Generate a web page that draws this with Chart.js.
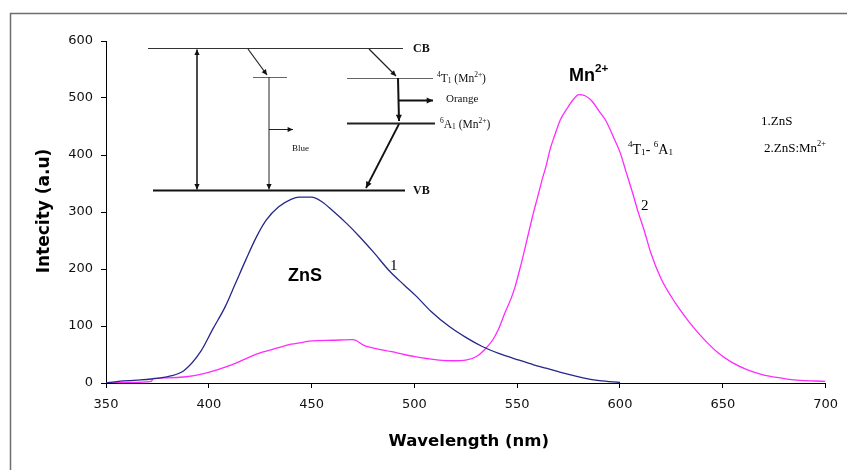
<!DOCTYPE html>
<html lang="en">

<head>
    <meta charset="UTF-8">
    <title>ZnS / ZnS:Mn PL spectra</title>
    <script src="https://cdn.jsdelivr.net/npm/chart.js@4.5.0/dist/chart.umd.min.js"></script>
    <style>
        body { margin: 0; background: #fff; }
        #wrap { width: 847px; height: 470px; }
    </style>
</head>

<body>
    <div id="wrap">
        <canvas id="myChart" width="847" height="470"></canvas>
    </div>

    <script>
        // curve 1 : ZnS
        const znsWl = [350, 356, 365, 372, 381, 388, 396, 402, 408, 413, 418, 423, 428, 434, 440, 444, 450, 455, 460, 467,
            473, 480, 488, 495, 501, 508, 517, 525, 533, 541, 551, 558, 564, 570, 575, 582, 590, 600];
        const znsI = [0, 3, 5, 7, 12, 22, 55, 95, 134, 175, 216, 255, 286, 309, 322, 326, 326, 318, 303, 280,
            258, 230, 196, 172, 152, 126, 99, 80, 64, 52, 40, 32, 26, 20, 15, 9, 4, 1];

        // curve 2 : ZnS:Mn2+
        const mnWl = [350, 360, 372, 373, 380, 389, 397, 404, 412, 420, 426, 433, 440, 445, 450, 460, 470, 476, 483, 489,
            495, 501, 506, 512, 519, 525, 530, 534, 538, 541, 544, 547, 549, 552, 555, 558, 560, 562, 564, 566,
            568, 571, 574, 577, 580, 583, 586, 590, 593, 597, 600, 603, 606, 609, 612, 615, 620, 627, 633, 640,
            648, 654, 662, 670, 678, 686, 700];
        const mnI = [0, 1, 3, 8, 9, 11, 16, 23, 33, 46, 54, 61, 68, 71, 74, 75, 76, 65, 59, 55,
            50, 46, 43, 40, 39, 40, 46, 58, 75, 95, 123, 148, 169, 210, 255, 300, 327, 355, 380, 410,
            432, 462, 480, 496, 506, 504, 496, 476, 461, 430, 405, 370, 335, 298, 265, 228, 183, 140, 110, 80,
            52, 37, 23, 14, 9, 5, 3];

        const xMin = 350, xMax = 700, xStep = 50;
        const yMin = 0, yMax = 600, yStep = 100;

        const toPoints = (xs, ys) => xs.map((x, i) => ({ x: x, y: ys[i] }));

        // texte avec exposants / indices
        function richText(ctx, x, y, parts, size, family, weight) {
            let cx = x;
            parts.forEach(p => {
                const txt = p[0], mode = p[1] || '';
                let s = size, dy = 0;
                if (mode === 'sup') { s = size * 0.65; dy = -size * 0.38; }
                if (mode === 'sub') { s = size * 0.65; dy = size * 0.22; }
                ctx.font = (weight || 'normal') + ' ' + s + 'px ' + family;
                ctx.fillText(txt, cx, y + dy);
                cx += ctx.measureText(txt).width;
            });
        }

        function arrow(ctx, x1, y1, x2, y2, lw, head) {
            ctx.lineWidth = lw;
            ctx.beginPath();
            ctx.moveTo(x1, y1);
            ctx.lineTo(x2, y2);
            ctx.stroke();
            const a = Math.atan2(y2 - y1, x2 - x1);
            ctx.beginPath();
            ctx.moveTo(x2, y2);
            ctx.lineTo(x2 - head * Math.cos(a - 0.45), y2 - head * Math.sin(a - 0.45));
            ctx.lineTo(x2 - head * Math.cos(a + 0.45), y2 - head * Math.sin(a + 0.45));
            ctx.closePath();
            ctx.fill();
        }

        function line(ctx, x1, y1, x2, y2, lw, col) {
            ctx.strokeStyle = col;
            ctx.lineWidth = lw;
            ctx.beginPath();
            ctx.moveTo(x1, y1);
            ctx.lineTo(x2, y2);
            ctx.stroke();
        }

        const bgPlugin = {
            id: 'bg',
            beforeDraw(chart) {
                const ctx = chart.ctx;
                ctx.save();
                ctx.fillStyle = '#fff';
                ctx.fillRect(0, 0, chart.width, chart.height);
                ctx.restore();
            }
        };

        // cadre, titres des axes, schéma des niveaux et étiquettes
        const notesPlugin = {
            id: 'notes',
            afterDraw(chart) {
                const ctx = chart.ctx;
                const area = chart.chartArea;
                ctx.save();

                // cadre
                ctx.strokeStyle = '#6e6e6e';
                ctx.lineWidth = 1.5;
                ctx.strokeRect(10.5, 13.5, 1000, 1000);

                // titres des axes
                ctx.fillStyle = '#000';
                ctx.textBaseline = 'middle';
                ctx.textAlign = 'center';
                ctx.font = 'bold 16.5px "DejaVu Sans"';
                ctx.fillText('Wavelength (nm)', (area.left + area.right) / 2 + 3, 442);
                ctx.save();
                ctx.translate(45, 211);
                ctx.rotate(-Math.PI / 2);
                ctx.font = 'bold 17px "DejaVu Sans"';
                ctx.fillText('Intecity (a.u)', 0, 0);
                ctx.restore();

                // schéma des niveaux d'énergie
                ctx.fillStyle = '#111';
                line(ctx, 148, 48.5, 403, 48.5, 1, '#333');
                line(ctx, 153, 190.5, 405, 190.5, 2.2, '#111');
                ctx.strokeStyle = '#111';
                arrow(ctx, 197, 120, 197, 49.5, 1.5, 6);
                arrow(ctx, 197, 120, 197, 189.5, 1.5, 6);

                ctx.strokeStyle = '#222';
                arrow(ctx, 248, 49, 267, 75, 1.2, 6);
                line(ctx, 253, 77.5, 287, 77.5, 1, '#666');
                ctx.strokeStyle = '#222';
                arrow(ctx, 269, 77, 269, 189.5, 1, 6);
                arrow(ctx, 269, 129.5, 293, 129.5, 1, 6);

                arrow(ctx, 369, 49, 396, 76, 1.2, 6);
                line(ctx, 347, 78.5, 433, 78.5, 1, '#666');
                ctx.strokeStyle = '#111';
                arrow(ctx, 398, 78, 399, 121, 2, 7);
                arrow(ctx, 398, 100.5, 433, 100.5, 2, 7);
                line(ctx, 347, 123.5, 435, 123.5, 1.8, '#222');
                ctx.strokeStyle = '#111';
                arrow(ctx, 399, 124, 366, 188, 1.8, 7);

                ctx.textAlign = 'left';
                ctx.fillStyle = '#111';
                const serif = '"Liberation Serif"';
                richText(ctx, 413, 48.5, [['CB']], 12, serif, 'bold');
                richText(ctx, 413, 191, [['VB']], 12, serif, 'bold');
                richText(ctx, 292, 148.5, [['Blue']], 9, serif);
                richText(ctx, 437, 79, [['4', 'sup'], ['T'], ['1', 'sub'], [' (Mn'], ['2+', 'sup'], [')']], 11.5, serif);
                richText(ctx, 446, 99.5, [['Orange']], 11, serif);
                richText(ctx, 440, 125, [['6', 'sup'], ['A'], ['1', 'sub'], [' (Mn'], ['2+', 'sup'], [')']], 11.5, serif);

                // étiquettes des courbes
                ctx.fillStyle = '#000';
                richText(ctx, 569, 76, [['Mn'], ['2+', 'sup']], 18, '"Liberation Sans"', 'bold');
                richText(ctx, 628, 150, [['4', 'sup'], ['T'], ['1', 'sub'], ['- '], ['6', 'sup'], ['A'], ['1', 'sub']], 14, serif);
                richText(ctx, 641, 206, [['2']], 15, serif);
                richText(ctx, 390, 266, [['1']], 15, serif);
                richText(ctx, 288, 276, [['ZnS']], 18, '"Liberation Sans"', 'bold');
                richText(ctx, 761, 122, [['1.ZnS']], 13, serif);
                richText(ctx, 764, 148.5, [['2.ZnS:Mn'], ['2+', 'sup']], 13, serif);

                ctx.restore();
            }
        };

        window.addEventListener('DOMContentLoaded', () => {
            const ctx = document.getElementById('myChart').getContext('2d');

            new Chart(ctx, {
                type: 'line',
                data: {
                    datasets: [{
                        label: '1.ZnS',
                        data: toPoints(znsWl, znsI),
                        borderColor: '#26268a',
                        borderWidth: 1.3,
                        pointRadius: 0,
                        fill: false,
                        cubicInterpolationMode: 'monotone'
                    }, {
                        label: '2.ZnS:Mn2+',
                        data: toPoints(mnWl, mnI),
                        borderColor: '#ff2aff',
                        borderWidth: 1.3,
                        pointRadius: 0,
                        fill: false,
                        cubicInterpolationMode: 'monotone'
                    }]
                },
                options: {
                    responsive: false,
                    devicePixelRatio: 1,
                    animation: false,
                    layout: { padding: { left: 10, right: 19, top: 41, bottom: 0 } },
                    plugins: {
                        legend: { display: false },
                        tooltip: { enabled: false }
                    },
                    scales: {
                        x: {
                            type: 'linear',
                            min: xMin, max: xMax,
                            afterFit: s => { s.height = 87; },
                            ticks: {
                                stepSize: xStep,
                                padding: 9,
                                color: '#111',
                                font: { family: '"DejaVu Sans"', size: 13 }
                            },
                            grid: { drawOnChartArea: false, drawTicks: true, tickLength: 5, color: '#000' },
                            border: { color: '#000', width: 1 }
                        },
                        y: {
                            min: yMin, max: yMax,
                            afterFit: s => { s.width = 96; },
                            ticks: {
                                stepSize: yStep,
                                padding: 8,
                                color: '#111',
                                font: { family: '"DejaVu Sans"', size: 13 }
                            },
                            grid: { drawOnChartArea: false, drawTicks: true, tickLength: 5, color: '#000' },
                            border: { color: '#000', width: 1 }
                        }
                    }
                },
                plugins: [bgPlugin, notesPlugin]
            });
        });
    </script>
</body>

</html>
